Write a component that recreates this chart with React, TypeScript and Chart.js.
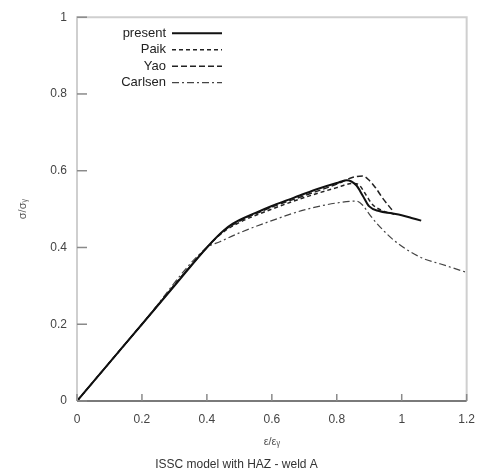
import React, { useEffect, useRef } from "react";
import { Chart, registerables } from "chart.js";

Chart.register(...registerables);

const seriesLabels = ["present", "Paik", "Yao", "Carlsen"];

const presentX = [0, 0.1, 0.2, 0.3, 0.4, 0.45, 0.48, 0.55, 0.6, 0.65, 0.7, 0.75, 0.8, 0.83, 0.86, 0.88, 0.9, 0.93, 0.97, 1.0, 1.03, 1.06];
const presentY = [0, 0.1, 0.2, 0.3, 0.4, 0.443, 0.462, 0.49, 0.508, 0.524, 0.54, 0.555, 0.568, 0.575, 0.562, 0.535, 0.507, 0.495, 0.489, 0.484, 0.477, 0.47];

const paikX = [0, 0.2, 0.4, 0.45, 0.5, 0.6, 0.7, 0.8, 0.85, 0.87, 0.89, 0.91, 0.94, 0.98];
const paikY = [0, 0.2, 0.4, 0.44, 0.465, 0.5, 0.53, 0.556, 0.567, 0.562, 0.537, 0.512, 0.496, 0.486];

const yaoX = [0, 0.2, 0.4, 0.45, 0.5, 0.6, 0.7, 0.8, 0.85, 0.88, 0.9, 0.92, 0.94, 0.97];
const yaoY = [0, 0.2, 0.4, 0.442, 0.468, 0.505, 0.535, 0.565, 0.583, 0.586, 0.575, 0.555, 0.53, 0.498];

const carlsenX = [0, 0.2, 0.4, 0.44, 0.5, 0.6, 0.7, 0.8, 0.86, 0.88, 0.9, 0.92, 0.97, 1.02, 1.07, 1.12, 1.2];
const carlsenY = [0, 0.2, 0.4, 0.415, 0.438, 0.47, 0.498, 0.516, 0.521, 0.51, 0.487, 0.466, 0.423, 0.392, 0.37, 0.357, 0.335];

const xTicks = [0, 0.2, 0.4, 0.6, 0.8, 1, 1.2];
const yTicks = [0, 0.2, 0.4, 0.6, 0.8, 1];

const xTitle = "ε/ε\u1D67";
const yTitle = "σ/σ\u1D67";
const caption = "ISSC model with HAZ - weld A";

const zip = (xs: number[], ys: number[]) => xs.map((x, i) => ({ x, y: ys[i] }));

const FONT = "'Liberation Sans', Arial, sans-serif";

const framePlugin = {
  id: "frame",
  afterDraw(chart: any) {
    const { ctx, chartArea } = chart;
    const { left, right, top, bottom } = chartArea;
    ctx.save();
    // border
    ctx.strokeStyle = "#cfcfcf";
    ctx.lineWidth = 2;
    ctx.beginPath();
    ctx.moveTo(left, bottom);
    ctx.lineTo(left, top);
    ctx.lineTo(right, top);
    ctx.lineTo(right, bottom);
    ctx.stroke();
    ctx.strokeStyle = "#7a7a7a";
    ctx.beginPath();
    ctx.moveTo(left, bottom);
    ctx.lineTo(right, bottom);
    ctx.stroke();
    // inward ticks
    ctx.lineWidth = 1.5;
    ctx.strokeStyle = "#8a8a8a";
    const xs = chart.scales.x;
    const ys = chart.scales.y;
    xTicks.forEach((v) => {
      const px = xs.getPixelForValue(v);
      ctx.beginPath();
      ctx.moveTo(px, bottom);
      ctx.lineTo(px, bottom - 7);
      ctx.stroke();
    });
    yTicks.forEach((v) => {
      const py = ys.getPixelForValue(v);
      ctx.beginPath();
      ctx.moveTo(left, py);
      ctx.lineTo(left + 10, py);
      ctx.stroke();
    });
    // legend (text left of sample)
    ctx.font = `13px ${FONT}`;
    ctx.textAlign = "right";
    ctx.textBaseline = "middle";
    chart.data.datasets.forEach((ds: any, i: number) => {
      const y = top + 16 + i * 16.5;
      ctx.fillStyle = "#222";
      ctx.fillText(ds.label, left + 89, y);
      ctx.strokeStyle = ds.borderColor;
      ctx.lineWidth = ds.borderWidth;
      ctx.setLineDash(ds.borderDash || []);
      ctx.beginPath();
      ctx.moveTo(left + 95, y);
      ctx.lineTo(left + 145, y);
      ctx.stroke();
      ctx.setLineDash([]);
    });
    ctx.restore();
  },
};

export default function App() {
  const ref = useRef<HTMLCanvasElement>(null);
  useEffect(() => {
    if (!ref.current) return;
    const chart = new Chart(ref.current, {
      type: "line",
      data: {
        datasets: [
          { label: seriesLabels[0], data: zip(presentX, presentY), borderColor: "#111", borderWidth: 2, pointRadius: 0, tension: 0.3, cubicInterpolationMode: "monotone" },
          { label: seriesLabels[1], data: zip(paikX, paikY), borderColor: "#222", borderWidth: 1.5, borderDash: [4, 3], pointRadius: 0, tension: 0.3, cubicInterpolationMode: "monotone" },
          { label: seriesLabels[2], data: zip(yaoX, yaoY), borderColor: "#222", borderWidth: 1.5, borderDash: [6, 3], pointRadius: 0, tension: 0.3, cubicInterpolationMode: "monotone" },
          { label: seriesLabels[3], data: zip(carlsenX, carlsenY), borderColor: "#444", borderWidth: 1.2, borderDash: [7, 3, 2, 3], pointRadius: 0, tension: 0.3, cubicInterpolationMode: "monotone" },
        ] as any,
      },
      options: {
        animation: false,
        responsive: false,
        parsing: false as any,
        layout: { padding: { left: 0, right: 13, top: 11, bottom: 0 } },
        plugins: {
          legend: { display: false },
          tooltip: { enabled: false },
          title: {
            display: true,
            position: "bottom",
            text: caption,
            color: "#333",
            font: { family: FONT, size: 12, weight: "normal" },
            padding: { top: 0, bottom: 3 },
          },
        },
        scales: {
          x: {
            type: "linear",
            min: 0,
            max: 1.2,
            afterBuildTicks: (s: any) => { s.ticks = xTicks.map((v) => ({ value: v })); },
            afterFit: (s: any) => { s.height = 56.6; },
            grid: { display: false, drawTicks: false },
            border: { display: false },
            ticks: { color: "#444", font: { family: FONT, size: 12 }, padding: 11, maxRotation: 0, callback: (v: any) => String(v) },
            title: { display: true, text: xTitle, color: "#555", font: { family: FONT, size: 11 }, padding: { top: 9, bottom: 9 } },
          },
          y: {
            type: "linear",
            min: 0,
            max: 1,
            afterBuildTicks: (s: any) => { s.ticks = yTicks.map((v) => ({ value: v })); },
            afterFit: (s: any) => { s.width = 77; },
            grid: { display: false, drawTicks: false },
            border: { display: false },
            ticks: { color: "#444", font: { family: FONT, size: 12 }, padding: 10, callback: (v: any) => String(v) },
            title: { display: true, text: yTitle, color: "#555", font: { family: FONT, size: 11 }, padding: { top: 16, bottom: 4 } },
          },
        },
      },
      plugins: [framePlugin],
    });
    return () => chart.destroy();
  }, []);
  return (
    <div style={{ position: "fixed", left: 0, top: 0, width: 486, height: 475, background: "#fff" }}>
      <canvas ref={ref} width={486} height={475} style={{ width: 486, height: 475, display: "block" }} />
    </div>
  );
}
